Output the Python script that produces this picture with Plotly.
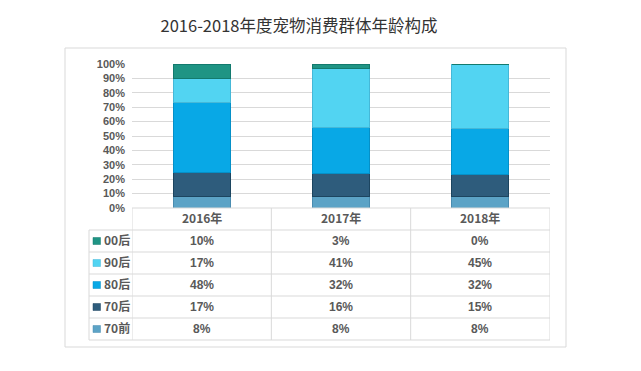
import plotly.graph_objects as go

# ---- data ----
categories = ["2016年", "2017年", "2018年"]
series_names = ["70前", "70后", "80后", "90后", "00后"]   # stacking order bottom -> top
v_70q = [8, 8, 8]
v_70h = [17, 16, 15]
v_80h = [48, 32, 32]
v_90h = [17, 41, 45]
v_00h = [10, 3, 0]
series_values = [v_70q, v_70h, v_80h, v_90h, v_00h]
y_ticks = [0, 10, 20, 30, 40, 50, 60, 70, 80, 90, 100]
title_text = "2016-2018年度宠物消费群体年龄构成"

colors = ["#5ca3c6", "#2e5c7c", "#08a8e6", "#52d4f2", "#1f9484"]
edges = ["#4a8cb0", "#1c4560", "#0590c8", "#45b8d8", "#137a6e"]

W, H = 641, 371
OX, OY = 8, 8   # page body margin offset
L, R, T, B = 132, 550, 64, 208   # plot area in page pixels
PW, PH = R - L, B - T

def px(x):
    return (x - L) / PW

def py(y):
    return (B - y) / PH

fig = go.Figure()
for name, vals, c, e in zip(series_names, series_values, colors, edges):
    fig.add_trace(go.Bar(
        x=categories, y=vals, name=name, width=0.41,
        marker=dict(color=c, line=dict(color=e, width=1)),
        showlegend=False, hoverinfo="skip",
    ))

grey = "#595959"
line_c = "#d9d9d9"
font_b = "Liberation Sans, Noto Sans CJK SC"
font_cjk = "Noto Sans CJK SC"
fs = 12

shapes = []
ann = []
# outer frame
shapes.append(dict(type="rect", xref="paper", yref="paper",
                   x0=px(65), x1=px(566), y0=py(347), y1=py(48),
                   line=dict(color=line_c, width=1), layer="below"))

row_top = 230
row_h = 22
n_rows = len(series_names)
table_bottom = row_top + row_h * n_rows
leg_left = 89

# horizontal lines
shapes.append(dict(type="line", xref="paper", yref="paper", x0=0, x1=1,
                   y0=py(B), y1=py(B), line=dict(color=line_c, width=1)))
for r in range(n_rows + 1):
    yy = row_top + r * row_h
    shapes.append(dict(type="line", xref="paper", yref="paper", x0=px(leg_left), x1=1,
                       y0=py(yy), y1=py(yy), line=dict(color=line_c, width=1)))
# vertical lines
for k in range(len(categories) + 1):
    xk = k - 0.5
    shapes.append(dict(type="line", xref="x", yref="paper", x0=xk, x1=xk,
                       y0=py(B), y1=py(table_bottom), line=dict(color=line_c, width=1)))
shapes.append(dict(type="line", xref="paper", yref="paper", x0=px(leg_left), x1=px(leg_left),
                   y0=py(row_top), y1=py(table_bottom), line=dict(color=line_c, width=1)))

# header
for i, cat in enumerate(categories):
    ann.append(dict(x=i, xref="x", y=py((B + row_top) / 2), yref="paper", text=cat,
                    showarrow=False, font=dict(family=font_cjk, size=fs, color=grey, weight="bold"),
                    xanchor="center", yanchor="middle", yshift=1.5))

# rows, top row = last series
order = list(range(n_rows))[::-1]
for r, s in enumerate(order):
    yc = row_top + r * row_h + row_h / 2
    shapes.append(dict(type="rect", xref="paper", yref="paper",
                       x0=px(93), x1=px(100.5), y0=py(yc + 3.5), y1=py(yc - 3.5),
                       fillcolor=colors[s], line=dict(color=edges[s], width=0.5)))
    ann.append(dict(x=px(102), xref="paper", y=py(yc), yref="paper", text=series_names[s],
                    showarrow=False, font=dict(family=font_cjk, size=fs, color=grey, weight="bold"),
                    xanchor="left", yanchor="middle", yshift=1.5))
    for i in range(len(categories)):
        ann.append(dict(x=i, xref="x", y=py(yc), yref="paper", text=f"{series_values[s][i]}%",
                        showarrow=False, font=dict(family=font_b, size=fs, color=grey, weight="bold"),
                        xanchor="center", yanchor="middle"))

fig.update_layout(
    width=W, height=H,
    margin=dict(l=L - OX, r=W - R + OX, t=T - OY, b=H - B + OY),
    barmode="stack",
    paper_bgcolor="white", plot_bgcolor="white",
    title=dict(text=title_text, x=(299 - OX) / W, xanchor="center", y=1 - (26 - OY) / H,
               yanchor="middle",
               font=dict(family="Noto Sans CJK SC", size=16.5, color="#333333")),
    xaxis=dict(range=[-0.5, 2.5], showticklabels=False, showgrid=False, zeroline=False,
               showline=False, fixedrange=True),
    yaxis=dict(range=[0, 100], tickvals=y_ticks, ticktext=[f"{t}%" for t in y_ticks],
               showgrid=True, gridcolor=line_c, gridwidth=1, zeroline=False, showline=False,
               ticks="", ticklabelstandoff=6,
               tickfont=dict(family=font_b, size=11, color=grey, weight="bold")),
    shapes=shapes, annotations=ann,
)

fig.write_html("out.html")
